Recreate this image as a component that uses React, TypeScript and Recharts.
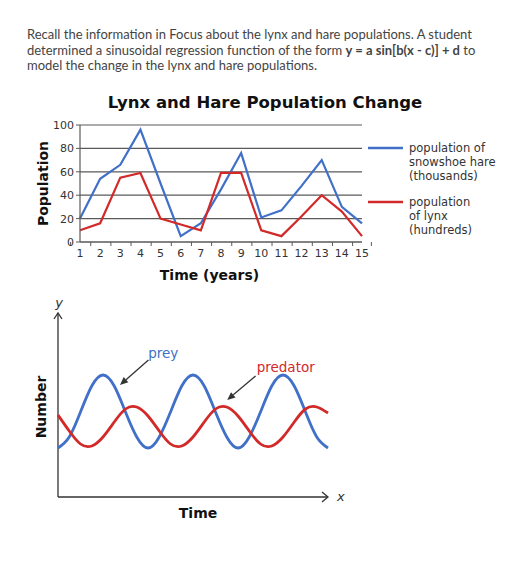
import React from "react";
import {
  LineChart,
  Line,
  XAxis,
  YAxis,
  CartesianGrid,
  Legend,
  ReferenceLine,
  ReferenceDot,
} from "recharts";

// population chart
const years = ["1", "2", "3", "4", "5", "6", "7", "8", "9", "10", "11", "12", "13", "14", "15"];
const hare = [20, 54, 66, 96, 50, 5, 16, 45, 76, 21, 27, 48, 70, 30, 16];
const lynx = [10, 16, 55, 59, 20, 15, 10, 59, 59, 10, 5, 22, 40, 26, 5];
const popTicks = [0, 20, 40, 60, 80, 100];

// prey / predator sketch, heights
const timeSteps = [0, 1, 2, 3, 4, 5, 6, 7, 8, 9, 10, 11, 12, 13, 14, 15, 16, 17, 18, 19, 20, 21, 22, 23, 24];
const prey = [49, 60, 85, 111, 122, 111, 85, 60, 49, 60, 85, 111, 122, 111, 85, 60, 49, 60, 85, 111, 122, 111, 85, 60, 49];
const predator = [82, 66, 53, 51, 60, 75, 88, 90, 81, 66, 53, 51, 60, 75, 88, 90, 81, 66, 53, 51, 60, 75, 88, 90, 84];

const BLUE = "#4170c8";
const RED = "#d22929";
const INK = "#333";
const GRID = "#5a5a5a";
const FONT = "'DejaVu Sans', Verdana, sans-serif";

const popData = years.map((year, i) => ({ year, hare: hare[i], lynx: lynx[i] }));
const cycleData = timeSteps.map((t, i) => ({ t, prey: prey[i], predator: predator[i] }));

const BAND = 282 / years.length;

const YearTick = (props: any) => {
  const { x, y, payload, index } = props;
  const axisY = y - 6;
  return (
    <g>
      <line x1={x - BAND / 2} x2={x - BAND / 2} y1={axisY} y2={axisY + 4} stroke={GRID} />
      {index === years.length - 1 && (
        <line x1={x + BAND / 2} x2={x + BAND / 2} y1={axisY} y2={axisY + 4} stroke={GRID} />
      )}
      <text x={x} y={y} dy={9} textAnchor="middle" fontSize={11} fill={INK} fontFamily={FONT}>
        {payload.value}
      </text>
    </g>
  );
};

// bold axis titles placed inside the axis viewBox
const axisTitle = (text: string, dx: number, dy: number, vertical = false) => (p: any) => {
  const vb = p.viewBox;
  const cx = vb.x + dx;
  const cy = vertical ? vb.y + vb.height / 2 + dy : vb.y + dy;
  return (
    <text
      x={cx}
      y={cy}
      textAnchor="middle"
      dominantBaseline="central"
      fontFamily={FONT}
      fontWeight="bold"
      fontSize={14}
      fill="#111"
      transform={vertical ? `rotate(-90 ${cx} ${cy})` : undefined}
    >
      {text}
    </text>
  );
};

const LegendBox = (props: any) => (
  <div style={{ paddingLeft: 6, fontFamily: FONT, fontSize: 11.5, lineHeight: "14.2px", color: INK }}>
    {(props.payload || []).map((entry: any, i: number) => (
      <div key={String(entry.value)} style={{ display: "flex", marginTop: i ? 11 : 0 }}>
        <svg width={35} height={14} style={{ flexShrink: 0 }}>
          <line x1={0} x2={35} y1={7} y2={7} stroke={entry.color} strokeWidth={2.5} />
        </svg>
        <div style={{ marginLeft: 6 }}>
          {String(entry.value)
            .split("\n")
            .map((s) => (
              <div key={s}>{s}</div>
            ))}
        </div>
      </div>
    ))}
  </div>
);

const axisArrow = (letter: string, dir: "up" | "right") => (p: any) => {
  const { x1, y1, x2, y2 } = p;
  const head =
    dir === "right"
      ? `M${x2 - 6},${y2 - 5} L${x2},${y2} L${x2 - 6},${y2 + 5}`
      : `M${x2 - 4},${y2 + 6} L${x2},${y2} L${x2 + 4},${y2 + 6}`;
  return (
    <g>
      <line x1={x1} y1={y1} x2={x2} y2={y2} stroke={INK} strokeWidth={1.3} />
      <path d={head} fill="none" stroke={INK} strokeWidth={1.3} />
      <text
        x={dir === "right" ? x2 + 9 : x2 + 1}
        y={dir === "right" ? y2 + 4 : y2 - 6}
        textAnchor={dir === "right" ? "start" : "middle"}
        fontFamily={FONT}
        fontStyle="italic"
        fontSize={13}
        fill={INK}
      >
        {letter}
      </text>
    </g>
  );
};

const pointer = (p: any) => {
  const { x1, y1, x2, y2 } = p;
  const a = Math.atan2(y2 - y1, x2 - x1);
  const L = 8;
  const W = 3.5;
  const bx = x2 - L * Math.cos(a);
  const by = y2 - L * Math.sin(a);
  const pts = `${x2},${y2} ${bx + W * Math.sin(a)},${by - W * Math.cos(a)} ${bx - W * Math.sin(a)},${by + W * Math.cos(a)}`;
  return (
    <g>
      <line x1={x1} y1={y1} x2={bx} y2={by} stroke={INK} strokeWidth={1.3} />
      <polygon points={pts} fill={INK} />
    </g>
  );
};

export default function App() {
  return (
    <div
      style={{
        position: "absolute",
        left: 0,
        top: 0,
        width: 527,
        height: 564,
        background: "#fff",
        overflow: "hidden",
      }}
    >
      <div
        style={{
          position: "absolute",
          left: 27,
          top: 27,
          fontFamily: "Lato, sans-serif",
          fontSize: 13,
          lineHeight: "15.5px",
          color: "#444",
          whiteSpace: "nowrap",
        }}
      >
        Recall the information in Focus about the lynx and hare populations. A student
        <br />
        determined a sinusoidal regression function of the form <b>y = a sin[b(x - c)] + d</b> to
        <br />
        model the change in the lynx and hare populations.
      </div>

      <div
        style={{
          position: "absolute",
          left: 0,
          top: 93,
          width: 530,
          textAlign: "center",
          fontFamily: FONT,
          fontWeight: "bold",
          fontSize: 16.5,
          lineHeight: "20px",
          color: "#111",
        }}
      >
        Lynx and Hare Population Change
      </div>

      <div style={{ position: "absolute", left: 0, top: 115 }}>
        <LineChart width={527} height={172} data={popData} margin={{ top: 10, right: 5, bottom: 0, left: 0 }}>
          <CartesianGrid horizontal vertical={false} stroke={GRID} strokeWidth={1.2} />
          <XAxis
            dataKey="year"
            interval={0}
            height={45}
            tickSize={4}
            tickMargin={2}
            tickLine={false}
            axisLine={{ stroke: GRID, strokeWidth: 1.2 }}
            tick={<YearTick />}
            label={{ content: axisTitle("Time (years)", 129.5, 33.2) }}
          />
          <YAxis
            width={80}
            domain={[0, 100]}
            ticks={popTicks}
            tickSize={4}
            tickMargin={2}
            axisLine={{ stroke: GRID, strokeWidth: 1.2 }}
            tickLine={{ stroke: GRID }}
            tick={{ fontSize: 11, fill: INK, fontFamily: FONT }}
            label={{ content: axisTitle("Population", 42.7, 0, true) }}
          />
          <Legend
            layout="vertical"
            align="right"
            verticalAlign="middle"
            width={160}
            itemSorter="dataKey"
            wrapperStyle={{ top: 26, right: 5, width: 160 }}
            content={<LegendBox />}
          />
          <Line
            type="linear"
            dataKey="hare"
            name={"population of\nsnowshoe hare\n(thousands)"}
            stroke={BLUE}
            strokeWidth={2.2}
            dot={false}
            isAnimationActive={false}
          />
          <Line
            type="linear"
            dataKey="lynx"
            name={"population\nof lynx\n(hundreds)"}
            stroke={RED}
            strokeWidth={2.2}
            dot={false}
            isAnimationActive={false}
          />
        </LineChart>
      </div>

      <div style={{ position: "absolute", left: 0, top: 285 }}>
        <LineChart width={360} height={245} data={cycleData} margin={{ top: 28, right: 32, bottom: 3, left: 0 }}>
          <XAxis
            dataKey="t"
            type="number"
            domain={[0, 24]}
            height={30}
            tick={false}
            tickLine={false}
            axisLine={false}
            label={{ content: axisTitle("Time", 140, 15.7) }}
          />
          <YAxis
            width={58}
            domain={[0, 184]}
            tick={false}
            tickLine={false}
            axisLine={false}
            label={{ content: axisTitle("Number", 40.7, 2, true) }}
          />
          <ReferenceLine
            segment={[{ x: 0, y: 0 }, { x: 24, y: 0 }]}
            ifOverflow="visible"
            shape={axisArrow("x", "right")}
          />
          <ReferenceLine
            segment={[{ x: 0, y: 0 }, { x: 0, y: 184 }]}
            ifOverflow="visible"
            shape={axisArrow("y", "up")}
          />
          <Line type="natural" dataKey="prey" stroke={BLUE} strokeWidth={2.8} dot={false} isAnimationActive={false} />
          <Line
            type="natural"
            dataKey="predator"
            stroke={RED}
            strokeWidth={2.8}
            dot={false}
            isAnimationActive={false}
          />
          <ReferenceLine
            segment={[{ x: 8.04, y: 137 }, { x: 5.51, y: 112 }]}
            ifOverflow="visible"
            shape={pointer}
          />
          <ReferenceLine
            segment={[{ x: 17.56, y: 121 }, { x: 15.04, y: 97 }]}
            ifOverflow="visible"
            shape={pointer}
          />
          <ReferenceDot
            x={9.35}
            y={144}
            r={0}
            fill="none"
            stroke="none"
            ifOverflow="visible"
            label={{ value: "prey", position: "center", fill: BLUE, fontSize: 13.5, fontFamily: FONT }}
          />
          <ReferenceDot
            x={20.24}
            y={129.7}
            r={0}
            fill="none"
            stroke="none"
            ifOverflow="visible"
            label={{ value: "predator", position: "center", fill: RED, fontSize: 13.5, fontFamily: FONT }}
          />
        </LineChart>
      </div>
    </div>
  );
}
